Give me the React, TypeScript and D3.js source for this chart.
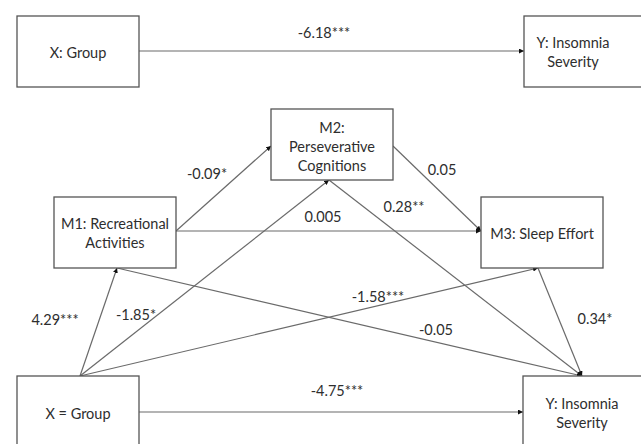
import React, { useEffect, useRef } from "react";
import * as d3 from "d3";

// node labels (one entry per line of text)
const nodeIds = ["xTop", "yTop", "x", "m1", "m2", "m3", "y"];
const nodeLabels = [
  ["X: Group"],
  ["Y: Insomnia", "Severity"],
  ["X = Group"],
  ["M1: Recreational", "Activities"],
  ["M2:", "Perseverative", "Cognitions"],
  ["M3: Sleep Effort"],
  ["Y: Insomnia", "Severity"],
];

// paths: from -> to with their coefficients
const edgeFrom = ["xTop", "x", "x", "x", "x", "m1", "m1", "m1", "m2", "m2", "m3"];
const edgeTo = ["yTop", "m1", "m2", "m3", "y", "m2", "m3", "y", "m3", "y", "y"];
const edgeCoef = [
  "-6.18***",
  "4.29***",
  "-1.85*",
  "-1.58***",
  "-4.75***",
  "-0.09*",
  "0.005",
  "-0.05",
  "0.05",
  "0.28**",
  "0.34*",
];

const App = () => {
  const svgRef = useRef<SVGSVGElement>(null);

  useEffect(() => {
    const width = 641;
    const height = 444;

    const svg = d3.select(svgRef.current);
    svg.selectAll("*").remove();
    svg.attr("width", width).attr("height", height);

    svg.append("rect").attr("width", width).attr("height", height).attr("fill", "#fff");

    // box layout: [x0, y0, x1, y1]
    const boxes: Record<string, number[]> = {
      xTop: [17, 16, 139, 87],
      yTop: [524, 16, 645, 87],
      x: [17, 376, 139, 446],
      m1: [54, 197, 176, 268],
      m2: [271, 109, 393, 180],
      m3: [481, 197, 603, 268],
      y: [523, 376, 645, 446],
    };
    // text centre per node (where the box is cut, the text is off-centre)
    const textCentre: Record<string, number[]> = {
      xTop: [78, 52],
      yTop: [573, 52],
      x: [78, 413],
      m1: [115, 233],
      m2: [332, 146],
      m3: [542, 233],
      y: [582, 413],
    };
    // anchor points on the boxes for each path: [x1, y1, x2, y2]
    const anchors = [
      [139, 51, 524, 51],
      [80, 376, 117, 268],
      [80, 376, 329, 180],
      [80, 376, 538, 268],
      [139, 412, 523, 412],
      [176, 231, 271, 146],
      [176, 231, 481, 231],
      [117, 268, 582, 376],
      [393, 146, 481, 231],
      [329, 180, 582, 376],
      [538, 268, 582, 376],
    ];
    // label positions
    const labelPos = [
      [324, 32],
      [55, 319],
      [136, 314],
      [378, 296],
      [337, 390],
      [207, 173],
      [323, 216],
      [436, 329],
      [442, 169],
      [404, 206],
      [595, 318],
    ];

    const font = "Lato, 'Open Sans', sans-serif";
    const textColor = "#2e2e2e";

    const defs = svg.append("defs");
    defs
      .append("marker")
      .attr("id", "arrow")
      .attr("viewBox", "0 0 10 10")
      .attr("refX", 10)
      .attr("refY", 5)
      .attr("markerWidth", 5)
      .attr("markerHeight", 5)
      .attr("markerUnits", "userSpaceOnUse")
      .attr("orient", "auto")
      .append("path")
      .attr("d", "M0,0 L10,5 L0,10 Z")
      .attr("fill", "#111");

    const edges = edgeFrom.map((f, i) => ({
      from: f,
      to: edgeTo[i],
      coef: edgeCoef[i],
      pts: anchors[i],
      label: labelPos[i],
    }));

    // lines
    svg
      .append("g")
      .selectAll("line")
      .data(edges)
      .join("line")
      .attr("x1", (d) => d.pts[0])
      .attr("y1", (d) => d.pts[1])
      .attr("x2", (d) => d.pts[2])
      .attr("y2", (d) => d.pts[3])
      .attr("stroke", "#6a6a6a")
      .attr("stroke-width", 1.2)
      .attr("marker-end", "url(#arrow)");

    // boxes
    const nodes = nodeIds.map((id, i) => ({ id, lines: nodeLabels[i], b: boxes[id], c: textCentre[id] }));
    const g = svg.append("g").selectAll("g").data(nodes).join("g");
    g.append("rect")
      .attr("x", (d) => d.b[0])
      .attr("y", (d) => d.b[1])
      .attr("width", (d) => d.b[2] - d.b[0])
      .attr("height", (d) => d.b[3] - d.b[1])
      .attr("fill", "#fff")
      .attr("stroke", "#555")
      .attr("stroke-width", 1.3);

    g.each(function (d) {
      const n = d.lines.length;
      const lh = 19;
      d3.select(this)
        .selectAll("text")
        .data(d.lines)
        .join("text")
        .attr("x", d.c[0])
        .attr("y", (_, j) => d.c[1] + (j - (n - 1) / 2) * lh)
        .attr("text-anchor", "middle")
        .attr("dominant-baseline", "central")
        .attr("font-family", font)
        .attr("font-size", "14.5px")
        .attr("fill", textColor)
        .text((t) => t);
    });

    // coefficient labels
    svg
      .append("g")
      .selectAll("text")
      .data(edges)
      .join("text")
      .attr("x", (d) => d.label[0])
      .attr("y", (d) => d.label[1])
      .attr("text-anchor", "middle")
      .attr("dominant-baseline", "central")
      .attr("font-family", font)
      .attr("font-size", "14.5px")
      .attr("fill", textColor)
      .text((d) => d.coef);
  }, []);

  return (
    <div style={{ position: "absolute", left: 0, top: 0 }}>
      <svg ref={svgRef} style={{ display: "block" }} />
    </div>
  );
};

export default App;
